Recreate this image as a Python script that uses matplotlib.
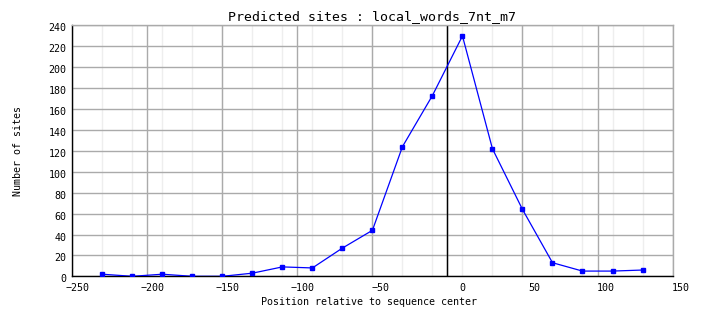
import matplotlib
matplotlib.use("Agg")
import matplotlib.pyplot as plt
import matplotlib.transforms as mtransforms

# window centers (bp) and number of predicted sites per window
positions = [-230, -210, -190, -170, -150, -130, -110, -90, -70, -50,
             -30, -10, 10, 30, 50, 70, 90, 110, 130]
sites = [2, 0, 2, 0, 0, 3, 9, 8, 27, 44,
         124, 173, 230, 122, 64, 13, 5, 5, 6]

x_ticks = [-250, -200, -150, -100, -50, 0, 50, 100, 150]
y_ticks = list(range(0, 241, 20))

title = "Predicted sites : local_words_7nt_m7"
x_label = "Position relative to sequence center"
y_label = "Number of sites"


def main():
    plt.rcParams['font.family'] = ['DejaVu Sans Mono']
    fig = plt.figure(figsize=(7.04, 3.28), dpi=100)
    ax = fig.add_axes([0.1027, 0.1576, 0.8526, 0.7647])

    # light grid at every window, darker grid at the major ticks
    for p in positions:
        ax.axvline(p, color='#eeeeee', linewidth=1, zorder=0)
    ax.set_xticks(x_ticks)
    ax.set_yticks(y_ticks)
    ax.grid(True, color='#aaaaaa', linewidth=1, zorder=1)

    ax.axvline(0, color='black', linewidth=1, zorder=2)
    ax.plot(positions, sites, color='#0000ff', linewidth=0.9,
            marker='s', markersize=2.5, zorder=3)

    ax.set_xlim(-250, 150)
    ax.set_ylim(0, 240)

    for side in ['top', 'right']:
        ax.spines[side].set_color('#aaaaaa')
    for side in ['left', 'bottom']:
        ax.spines[side].set_color('black')
    for sp in ax.spines.values():
        sp.set_linewidth(1)

    ax.tick_params(length=0, labelsize=7.2)
    ax.tick_params(axis='x', pad=4.8)
    ax.tick_params(axis='y', pad=4)

    # x labels end a bit right of their grid line, as in the original
    dx = mtransforms.ScaledTranslation(17.5 / 100, 0, fig.dpi_scale_trans)
    for lab in ax.get_xticklabels():
        lab.set_horizontalalignment('right')
        lab.set_transform(lab.get_transform() + dx)
    dy = mtransforms.ScaledTranslation(0, -2 / 100, fig.dpi_scale_trans)
    for lab in ax.get_yticklabels():
        lab.set_transform(lab.get_transform() + dy)

    ax.set_title(title, fontsize=9.5, pad=4)
    ax.set_xlabel(x_label, fontsize=7.2, va='center')
    ax.xaxis.set_label_coords(0.495, -0.104)
    ax.set_ylabel(y_label, fontsize=7.2, va='center')
    ax.yaxis.set_label_coords(-0.0905, 0.5)

    fig.savefig('out.png', dpi=100)


if __name__ == '__main__':
    main()
